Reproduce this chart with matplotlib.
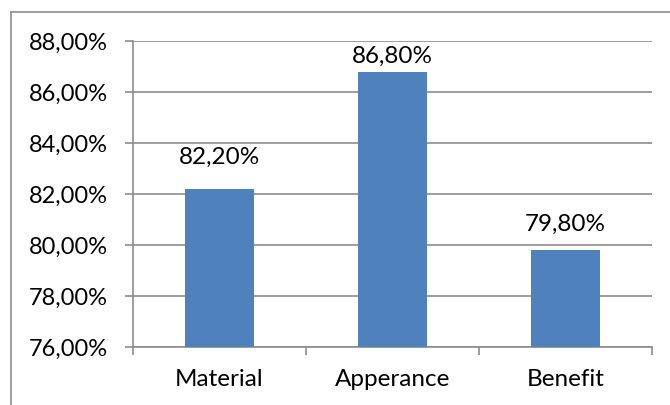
import matplotlib
matplotlib.use("Agg")
import matplotlib.pyplot as plt
from matplotlib.lines import Line2D

categories = ["Material", "Apperance", "Benefit"]
values = [82.2, 86.8, 79.8]
yticks = [76, 78, 80, 82, 84, 86, 88]
ytick_labels = ["76,00%", "78,00%", "80,00%", "82,00%", "84,00%", "86,00%", "88,00%"]
value_labels = ["82,20%", "86,80%", "79,80%"]
# label gap above each bar (points), as placed in the original
label_offsets = [18, 6.5, 13.7]

plt.rcParams['font.family'] = ['Lato', 'DejaVu Sans']
W, H = 670, 405
fig = plt.figure(figsize=(W/100, H/100), dpi=100)
ax = fig.add_axes([133/W, 1-347/H, (652-133)/W, (347-41)/H])

fs = 17
grey = "#8c8c8c"
x = list(range(len(categories)))
ax.bar(x, values, width=0.4, bottom=0, color="#4F81BD", zorder=3)
ax.set_xlim(-0.5, 2.5)
ax.set_ylim(76, 88)
ax.set_yticks(yticks)
ax.set_yticklabels(ytick_labels, fontsize=fs)
ax.set_xticks(x)
ax.set_xticklabels(categories, fontsize=17.5)
ax.tick_params(axis='x', length=0, pad=16)
ax.tick_params(axis='y', length=6, color=grey, width=1.2, pad=12)
ax.set_xticks([-0.5, 0.5, 1.5, 2.5], minor=True)
ax.tick_params(axis='x', which='minor', length=6, color=grey, width=1.2, direction='out')
ax.grid(axis='y', color=grey, linewidth=1.2, zorder=0)
for s in ['top', 'right']:
    ax.spines[s].set_visible(False)
for s in ['left', 'bottom']:
    ax.spines[s].set_color(grey)
    ax.spines[s].set_linewidth(1.2)
for xi, v, lab, off in zip(x, values, value_labels, label_offsets):
    ax.annotate(lab, (xi, v), xytext=(0, off), textcoords='offset points',
                ha='center', va='baseline', fontsize=17.5)

# figure border (top and left visible)
fig.add_artist(Line2D([11/W, 11/W], [0, 1-12/H], transform=fig.transFigure, color=grey, linewidth=1.2))
fig.add_artist(Line2D([11/W, 1], [1-12/H, 1-12/H], transform=fig.transFigure, color=grey, linewidth=1.2))

fig.savefig("out.png", dpi=100)
